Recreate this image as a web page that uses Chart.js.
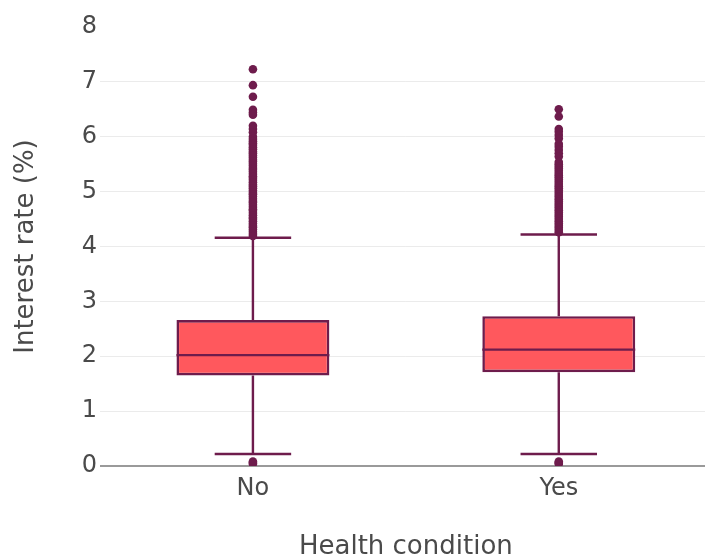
<!DOCTYPE html>
<html>
<head>
<meta charset="utf-8">
<script src="https://cdn.jsdelivr.net/npm/chart.js@4.4.1/dist/chart.umd.min.js"></script>
<style>
  html, body { margin: 0; padding: 0; background: #fff; overflow: hidden; }
  #wrap { position: relative; width: 716px; height: 560px; }
</style>
</head>
<body>
<div id="wrap"><canvas id="c"></canvas></div>
<script>
// Interest rate distribution by health condition
const categories = ['No', 'Yes'];
const q1 = [1.65, 1.71];
const median = [2.02, 2.12];
const q3 = [2.66, 2.73];
const lowerFence = [0.22, 0.22];
const upperFence = [4.16, 4.22];
const yTicks = [0, 1, 2, 3, 4, 5, 6, 7, 8];

const outliersNo = [
  0.04, 0.06, 0.08,
  7.23, 6.94, 6.73, 6.49, 6.44, 6.40, 6.20, 6.14, 6.08,
  6.00, 5.96, 5.92, 5.88, 5.85, 5.81, 5.77, 5.73, 5.70, 5.66, 5.62, 5.58,
  5.55, 5.51, 5.47, 5.43, 5.40, 5.36, 5.32, 5.28, 5.25, 5.21, 5.17, 5.13,
  5.10, 5.06, 5.02, 4.98, 4.95, 4.91, 4.87, 4.83, 4.80, 4.76, 4.72, 4.68,
  4.65, 4.61, 4.57, 4.53, 4.50, 4.46, 4.42, 4.38, 4.35, 4.31, 4.27, 4.23, 4.19
];
const outliersYes = [
  0.04, 0.06, 0.08,
  6.50, 6.37, 6.14, 6.09, 6.03, 5.97, 5.87, 5.82, 5.76, 5.70, 5.64,
  5.54, 5.50, 5.46, 5.42, 5.38, 5.34, 5.30, 5.26, 5.22, 5.18, 5.14, 5.10,
  5.06, 5.02, 4.98, 4.94, 4.90, 4.86, 4.82, 4.78, 4.74, 4.70, 4.66, 4.62,
  4.58, 4.54, 4.50, 4.46, 4.42, 4.38, 4.34, 4.30, 4.26
];

const LINE = '#6e1c4c';
const FILL = '#ff585d';
const TEXT = '#4a4a4a';
const FONT = "'DejaVu Sans', Verdana, sans-serif";

const outlierPoints = [];
outliersNo.forEach(v => outlierPoints.push({ x: categories[0], y: v }));
outliersYes.forEach(v => outlierPoints.push({ x: categories[1], y: v }));

// Whiskers, caps and median lines, drawn right after the boxes
const whiskerPlugin = {
  id: 'whiskers',
  afterDatasetDraw(chart, args) {
    if (args.index !== 0) return;
    const { ctx, scales: { y } } = chart;
    const meta = args.meta;
    ctx.save();
    ctx.strokeStyle = LINE;
    ctx.lineWidth = 2.4;
    meta.data.forEach((bar, i) => {
      const cx = bar.x;
      const half = bar.width / 2;
      const capHalf = half / 2;
      const yQ1 = y.getPixelForValue(q1[i]);
      const yQ3 = y.getPixelForValue(q3[i]);
      const yLo = y.getPixelForValue(lowerFence[i]);
      const yHi = y.getPixelForValue(upperFence[i]);
      const yMed = y.getPixelForValue(median[i]);
      ctx.beginPath();
      ctx.moveTo(cx, yQ3); ctx.lineTo(cx, yHi);
      ctx.moveTo(cx - capHalf, yHi); ctx.lineTo(cx + capHalf, yHi);
      ctx.moveTo(cx, yQ1); ctx.lineTo(cx, yLo);
      ctx.moveTo(cx - capHalf, yLo); ctx.lineTo(cx + capHalf, yLo);
      ctx.moveTo(cx - half, yMed); ctx.lineTo(cx + half, yMed);
      ctx.stroke();
    });
    ctx.restore();
  }
};

new Chart(document.getElementById('c'), {
  type: 'bar',
  data: {
    labels: categories,
    datasets: [
      {
        type: 'bar',
        order: 2,
        data: categories.map((_, i) => [q1[i], q3[i]]),
        backgroundColor: FILL,
        borderColor: LINE,
        borderWidth: 2.6,
        borderSkipped: false,
        categoryPercentage: 1,
        barPercentage: 0.5
      },
      {
        type: 'scatter',
        order: 1,
        data: outlierPoints,
        backgroundColor: LINE,
        borderColor: LINE,
        borderWidth: 0,
        pointRadius: 4.3,
        pointHoverRadius: 4.3,
        showLine: false
      }
    ]
  },
  options: {
    responsive: true,
    maintainAspectRatio: false,
    animation: false,
    events: [],
    layout: { padding: { top: 27, right: 0, bottom: 0, left: 0 } },
    plugins: { legend: { display: false }, tooltip: { enabled: false } },
    scales: {
      x: {
        type: 'category',
        offset: true,
        grid: { display: false, drawTicks: false },
        border: { display: false },
        ticks: { color: TEXT, font: { family: FONT, size: 24 }, padding: 8 },
        title: {
          display: true,
          text: 'Health condition',
          color: TEXT,
          font: { family: FONT, size: 26, lineHeight: 1 },
          padding: { top: 0, bottom: 0 }
        },
        afterFit(scale) { scale.height = 94; }
      },
      y: {
        min: 0,
        max: 8,
        afterBuildTicks(scale) { scale.ticks = yTicks.map(v => ({ value: v })); },
        grid: {
          drawTicks: false,
          color: c => c.tick.value === 0 ? '#9a9a9a' : (c.tick.value === 8 ? 'rgba(0,0,0,0)' : '#ebebeb'),
          lineWidth: c => c.tick.value === 0 ? 2 : 1
        },
        border: { display: false },
        ticks: { color: TEXT, font: { family: FONT, size: 24 }, padding: 3 },
        title: {
          display: true,
          text: 'Interest rate (%)',
          color: TEXT,
          font: { family: FONT, size: 26, lineHeight: 1 },
          padding: { top: 13, bottom: 0 }
        },
        afterFit(scale) { scale.width = 100; }
      }
    }
  },
  plugins: [whiskerPlugin]
});
</script>
</body>
</html>
